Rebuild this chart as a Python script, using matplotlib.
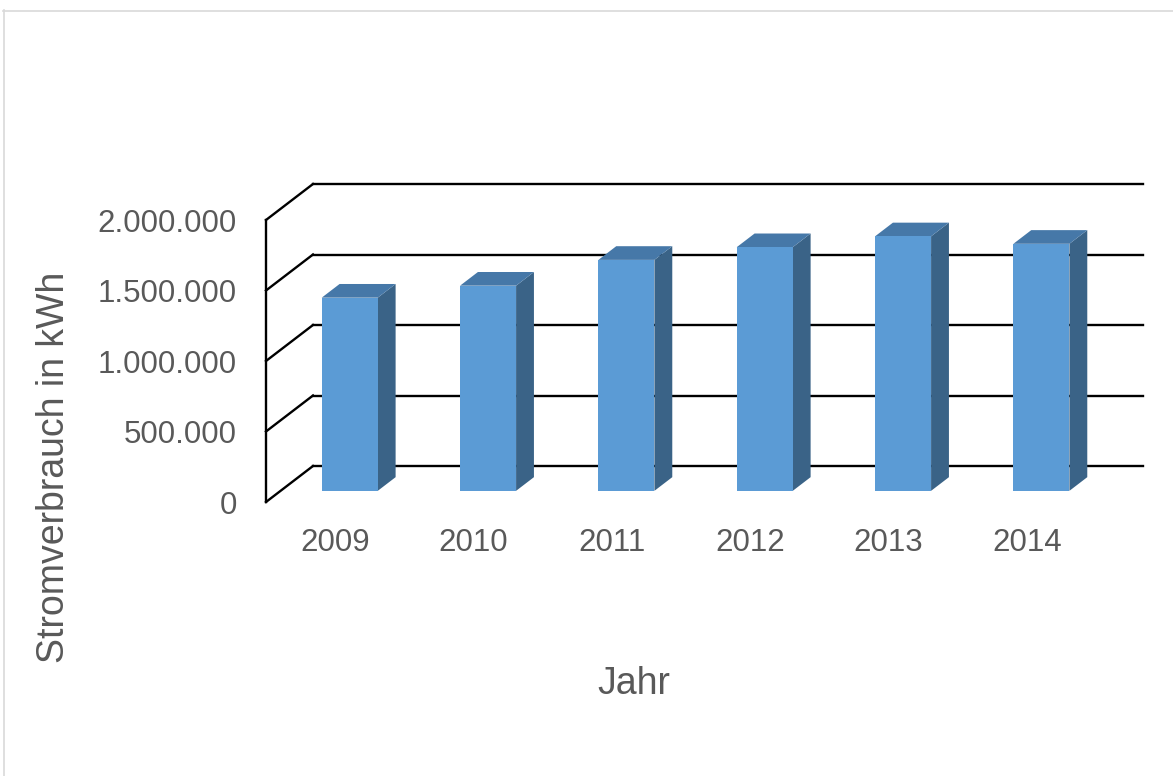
import matplotlib
matplotlib.use("Agg")
import matplotlib.pyplot as plt
from matplotlib.patches import Polygon, Rectangle
from matplotlib.lines import Line2D

# Annual electricity consumption
years = ["2009", "2010", "2011", "2012", "2013", "2014"]
consumption_kwh = [1370000, 1455000, 1638000, 1728000, 1805000, 1752000]
y_ticks = [0, 500000, 1000000, 1500000, 2000000]
y_tick_labels = ["0", "500.000", "1.000.000", "1.500.000", "2.000.000"]

FONT = "Liberation Sans"
TEXT_COLOR = "#595959"
FRONT = "#5B9BD5"
SIDE = "#3A6387"
TOP = "#4678A8"

W, H = 1173, 776
fig = plt.figure(figsize=(W / 100, H / 100), dpi=100)
fig.patch.set_facecolor("white")

# front plane of the 3D box
ax = fig.add_axes([266 / W, 1 - 502 / H, 830 / W, 282 / H])
ax.set_xlim(-0.5, len(years) - 0.5)
ax.set_ylim(0, y_ticks[-1])
ax.set_facecolor("none")

# oblique depth of the box, in pixels, converted to data units
DEPTH_PX_X, DEPTH_PX_Y = 47, 36
px_x = ax.bbox.width / (len(years))
px_y = ax.bbox.height / y_ticks[-1]
dx = DEPTH_PX_X / px_x
dy = DEPTH_PX_Y / px_y

# back wall grid lines and the diagonal side edges
x_left, x_right = -0.5, len(years) - 0.5
for v in y_ticks:
    ax.add_line(Line2D([x_left, x_left + dx], [v, v + dy], color="black",
                       lw=1.7, clip_on=False, zorder=1))
    ax.add_line(Line2D([x_left + dx, x_right + dx], [v + dy, v + dy],
                       color="black", lw=1.7, clip_on=False, zorder=1))

# bars as boxes placed in the middle of the depth
f1, f2 = 0.31, 0.69
bw = 0.405
for i, v in enumerate(consumption_kwh):
    x0 = i - bw / 2 + f1 * dx
    y0 = f1 * dy
    sx = (f2 - f1) * dx
    sy = (f2 - f1) * dy
    ax.add_patch(Polygon([(x0 + bw, y0), (x0 + bw + sx, y0 + sy),
                          (x0 + bw + sx, y0 + sy + v), (x0 + bw, y0 + v)],
                         closed=True, facecolor=SIDE, edgecolor="none",
                         clip_on=False, zorder=3))
    ax.add_patch(Polygon([(x0, y0 + v), (x0 + bw, y0 + v),
                          (x0 + bw + sx, y0 + v + sy), (x0 + sx, y0 + v + sy)],
                         closed=True, facecolor=TOP, edgecolor="none",
                         clip_on=False, zorder=3))
    ax.add_patch(Rectangle((x0, y0), bw, v, facecolor=FRONT,
                           edgecolor="none", clip_on=False, zorder=4))

for s in ["top", "right", "bottom"]:
    ax.spines[s].set_visible(False)
ax.spines["left"].set_color("black")
ax.spines["left"].set_linewidth(1.7)
ax.spines["left"].set_zorder(2)

ax.set_yticks(y_ticks, y_tick_labels)
ax.set_xticks(range(len(years)), years)
ax.tick_params(axis="both", length=0)
ax.tick_params(axis="y", pad=21)
ax.tick_params(axis="x", pad=19)
for lab in ax.get_xticklabels() + ax.get_yticklabels():
    lab.set_fontfamily(FONT)
    lab.set_fontsize(22.5)
    lab.set_color(TEXT_COLOR)

fig.text(54 / W, 1 - 467 / H, "Stromverbrauch in kWh", rotation=90,
         ha="center", va="center", fontsize=27, family=FONT, color=TEXT_COLOR)
fig.text(634 / W, 1 - 684 / H, "Jahr", ha="center", va="center",
         fontsize=27, family=FONT, color=TEXT_COLOR)

# chart area border
fig.add_artist(Line2D([3.5 / W, 3.5 / W], [0, 1 - 10 / H],
                      transform=fig.transFigure, color="#D9D9D9", lw=1.2))
fig.add_artist(Line2D([3 / W, 1], [1 - 10.5 / H, 1 - 10.5 / H],
                      transform=fig.transFigure, color="#D9D9D9", lw=1.2))

fig.savefig("out.png", dpi=100, facecolor="white")
